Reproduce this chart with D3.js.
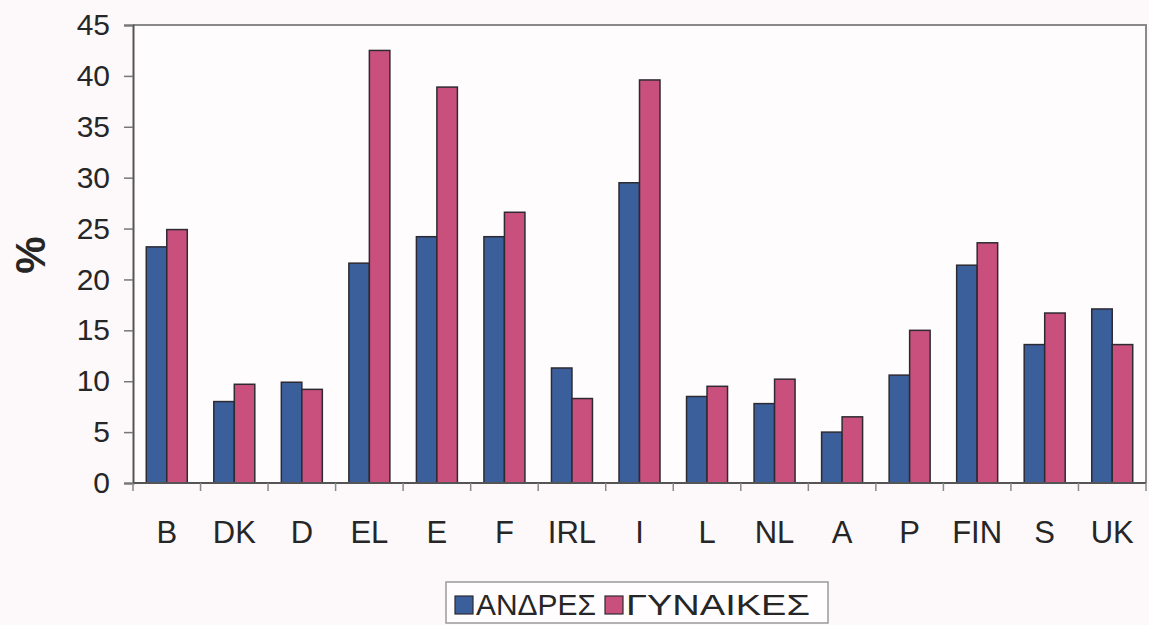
<!DOCTYPE html>
<html>
<head>
<meta charset="utf-8">
<script src="https://cdn.jsdelivr.net/npm/d3@7"></script>
<style>
  html, body { margin: 0; padding: 0; background: #fdf9fb; }
  svg { display: block; }
  text { font-family: "Liberation Sans", Arial, sans-serif; fill: #262626; }
</style>
</head>
<body>
<svg id="chart" width="1149" height="625"></svg>
<script>
// Country codes along the x axis
const categories = ["B", "DK", "D", "EL", "E", "F", "IRL", "I", "L", "NL", "A", "P", "FIN", "S", "UK"];
// Percentages per series
const men   = [23.2, 8.0, 9.9, 21.6, 24.2, 24.2, 11.3, 29.5, 8.5, 7.8, 5.0, 10.6, 21.4, 13.6, 17.1];
const women = [24.9, 9.7, 9.2, 42.5, 38.9, 26.6, 8.3, 39.6, 9.5, 10.2, 6.5, 15.0, 23.6, 16.7, 13.6];
const seriesNames = ["ΑΝΔΡΕΣ", "ΓΥΝΑΙΚΕΣ"];
const yTicks = [0, 5, 10, 15, 20, 25, 30, 35, 40, 45];

const colors = ["#3b5f9b", "#c9507c"];

const svg = d3.select("#chart");
const plot = { left: 133, right: 1146, top: 25, bottom: 483 };

const x = d3.scaleBand().domain(categories).range([plot.left, plot.right]).paddingInner(0).paddingOuter(0);
const inner = d3.scaleBand().domain([0, 1]).range([0, 41]);
const y = d3.scaleLinear().domain([0, 45]).range([plot.bottom, plot.top]);

// plot area and frame
svg.append("rect")
  .attr("x", plot.left).attr("y", plot.top)
  .attr("width", plot.right - plot.left).attr("height", plot.bottom - plot.top)
  .attr("fill", "#fffcfd");
svg.append("path")
  .attr("d", `M${plot.left},${plot.top}H${plot.right}V${plot.bottom}`)
  .attr("fill", "none").attr("stroke", "#8a8a8a").attr("stroke-width", 2);

// bars
const rows = categories.map((c, i) => ({ c, vals: [men[i], women[i]] }));
const groups = svg.append("g").selectAll("g").data(rows).join("g")
  .attr("transform", d => `translate(${x(d.c) + (x.bandwidth() - 41) / 2},0)`);
groups.selectAll("rect").data(d => d.vals.map((v, k) => ({ v, k }))).join("rect")
  .attr("x", d => inner(d.k))
  .attr("width", inner.bandwidth())
  .attr("y", d => y(d.v))
  .attr("height", d => y(0) - y(d.v))
  .attr("fill", d => colors[d.k])
  .attr("stroke", "#2e2a33")
  .attr("stroke-width", 1.5);

// y axis
const yAxis = svg.append("g")
  .attr("transform", `translate(${plot.left},0)`)
  .call(d3.axisLeft(y).tickValues(yTicks).tickSize(9).tickPadding(14));
yAxis.select(".domain").attr("stroke", "#555").attr("stroke-width", 2);
yAxis.selectAll(".tick line").attr("stroke", "#777").attr("stroke-width", 1.5);
yAxis.selectAll(".tick text")
  .style("font-size", "30px").style("font-family", "Liberation Sans, Arial, sans-serif")
  .attr("fill", "#262626");

// x axis: ticks between categories
const xAxisG = svg.append("g").attr("transform", `translate(0,${plot.bottom})`);
xAxisG.append("line")
  .attr("x1", plot.left).attr("x2", plot.right)
  .attr("stroke", "#555").attr("stroke-width", 2);
const boundaries = categories.map(c => x(c)).concat([plot.right]);
xAxisG.selectAll(".sep").data(boundaries).join("line")
  .attr("class", "sep")
  .attr("x1", d => d).attr("x2", d => d)
  .attr("y1", 0).attr("y2", 8)
  .attr("stroke", "#888").attr("stroke-width", 1.5);
xAxisG.selectAll(".lab").data(categories).join("text")
  .attr("class", "lab")
  .attr("x", d => x(d) + x.bandwidth() / 2)
  .attr("y", 60)
  .attr("text-anchor", "middle")
  .style("font-size", "31px")
  .text(d => d);

// y axis title
svg.append("text")
  .attr("transform", "translate(45,255) rotate(-90)")
  .attr("text-anchor", "middle")
  .style("font-size", "42px").style("font-weight", "bold")
  .text("%");

// legend
const legend = svg.append("g").attr("transform", "translate(446,582)");
legend.append("rect")
  .attr("width", 382).attr("height", 41)
  .attr("fill", "#fffdfe").attr("stroke", "#9a9a9a").attr("stroke-width", 1.5);
const legendX = [9, 159];
const legendTextLen = [120, 184];
seriesNames.forEach((name, k) => {
  legend.append("rect")
    .attr("x", legendX[k]).attr("y", 14)
    .attr("width", 18).attr("height", 18)
    .attr("fill", colors[k]).attr("stroke", "#2e2a33").attr("stroke-width", 1.2);
  legend.append("text")
    .attr("x", legendX[k] + 21).attr("y", 33)
    .attr("textLength", legendTextLen[k])
    .attr("lengthAdjust", "spacingAndGlyphs")
    .style("font-size", "29px")
    .text(name);
});
</script>
</body>
</html>
